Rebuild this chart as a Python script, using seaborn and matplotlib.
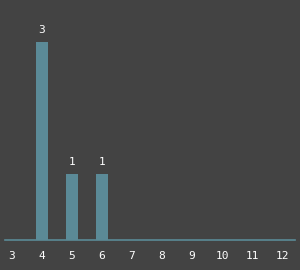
import matplotlib
matplotlib.use("Agg")
import matplotlib.pyplot as plt
import seaborn as sns
import pandas as pd

categories = ["3", "4", "5", "6", "7", "8", "9", "10", "11", "12"]
counts = [0, 3, 1, 1, 0, 0, 0, 0, 0, 0]

sns.set_style("dark")
plt.rcParams['font.family'] = ['DejaVu Sans Mono', 'DejaVu Sans']

bg = "#434343"
bar_color = "#5b8a97"

fig = plt.figure(figsize=(3.0, 2.7), dpi=100, facecolor=bg)
ax = fig.add_axes([5/300, 30/270, 290/300, 240/270])
ax.set_facecolor(bg)

df = pd.DataFrame({"cat": categories, "count": counts})
sns.barplot(data=df, x="cat", y="count", order=categories, color=bar_color,
            saturation=1, width=0.37, linewidth=0, ax=ax)

for c in ax.containers:
    labels = [str(v) if v > 0 else "" for v in counts]
    ax.bar_label(c, labels=labels, padding=5, color="white", fontsize=8)

ax.set_xlim(-0.233, 9.433)
ax.set_ylim(0, 240/66)
ax.set_xlabel("")
ax.set_ylabel("")
ax.set_yticks([])
ax.tick_params(axis="x", length=0, pad=8, colors="white", labelsize=8)
for s in ["top", "left", "right"]:
    ax.spines[s].set_visible(False)
ax.spines["bottom"].set_visible(True)
ax.spines["bottom"].set_color(bar_color)
ax.spines["bottom"].set_linewidth(1.2)
ax.grid(False)

fig.savefig("out.png", dpi=100, facecolor=bg)
